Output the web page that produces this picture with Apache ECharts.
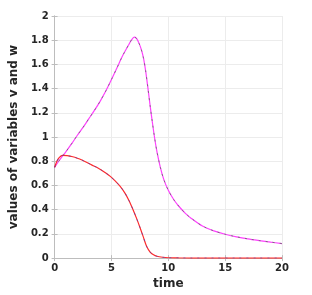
<!DOCTYPE html>
<html><head><meta charset="utf-8">
<script src="https://cdn.jsdelivr.net/npm/echarts@6/dist/echarts.min.js"></script>
<style>html,body{margin:0;padding:0;background:#fff}#c{width:312px;height:295px}</style>
</head><body><div id="c"></div>
<script>
const xTicks = [0, 5, 10, 15, 20];
const yTicks = [0, 0.2, 0.4, 0.6, 0.8, 1, 1.2, 1.4, 1.6, 1.8, 2];
const tW = [0,0.36,1,1.5,2,2.5,3,3.5,4,4.5,5,5.5,6,6.5,6.75,7,7.2,7.4,7.6,7.8,8,8.2,8.4,8.6,8.8,9,9.3,9.6,10,10.5,11,11.5,12,13,14,15,16,17,18,19,20];
const wVals = [0.75,0.80,0.88,0.945,1.015,1.08,1.15,1.22,1.295,1.38,1.475,1.575,1.675,1.76,1.80,1.825,1.815,1.78,1.73,1.66,1.55,1.41,1.26,1.12,0.99,0.88,0.75,0.65,0.56,0.48,0.42,0.37,0.33,0.265,0.225,0.197,0.176,0.159,0.145,0.132,0.12];
const tV = [0,0.2,0.4,0.7,1.1,1.6,2,2.4,2.8,3.25,3.7,4.1,4.5,4.9,5.3,5.75,6.2,6.57,6.9,7.2,7.5,7.8,8.1,8.4,8.7,9,9.5,10,11,12,14,16,18,20];
const vVals = [0.75,0.80,0.83,0.848,0.846,0.837,0.825,0.81,0.792,0.77,0.75,0.728,0.703,0.675,0.64,0.594,0.535,0.47,0.40,0.33,0.255,0.175,0.095,0.05,0.027,0.015,0.007,0.003,0.001,0,0,0,0,0];

const pair = (t, v) => t.map((x, i) => [x, v[i]]);
const lab = {color:'#262626', fontFamily:'DejaVu Sans', fontWeight:'bold', fontSize:10};
const axLine = {show:true, lineStyle:{color:'#bdbdbd', width:1}};
const tick = {show:true, inside:true, length:3, lineStyle:{color:'#bdbdbd'}};
const chart = echarts.init(document.getElementById('c'), null, {renderer:'canvas'});
chart.setOption({
  animation:false,
  grid:{left:41, right:30, top:16, bottom:33},
  xAxis:[{type:'value', min:0, max:20, interval:5, position:'bottom',
    name:'time', nameLocation:'middle', nameGap:14,
    nameTextStyle:{color:'#262626', fontFamily:'DejaVu Sans', fontWeight:'bold', fontSize:12},
    axisLine:axLine, axisTick:tick,
    axisLabel:Object.assign({margin:5, formatter: v => xTicks.includes(v) ? String(v) : ''}, lab),
    splitLine:{show:true, lineStyle:{color:'#ececec', width:1}}},
   {type:'value', min:0, max:20, interval:5, position:'top', axisLine:axLine,
    axisTick:tick, axisLabel:{show:false}, splitLine:{show:false}}],
  yAxis:[{type:'value', min:0, max:2, interval:0.2, position:'left',
    name:'values of variables v and w', nameLocation:'middle', nameGap:24,
    nameTextStyle:{color:'#262626', fontFamily:'DejaVu Sans', fontWeight:'bold', fontSize:12},
    axisLine:axLine, axisTick:tick,
    axisLabel:Object.assign({margin:6, formatter: v => { const r = Math.round(v*10)/10; return yTicks.includes(r) ? String(r) : ''; }}, lab),
    splitLine:{show:true, lineStyle:{color:'#ececec', width:1}}},
   {type:'value', min:0, max:2, interval:0.2, position:'right', axisLine:axLine,
    axisTick:tick, axisLabel:{show:false}, splitLine:{show:false}}],
  series:[
    {type:'line', data:pair(tW, wVals), smooth:0.3, showSymbol:false, lineStyle:{color:'#ff40ff', width:1.2}},
    {type:'line', data:pair(tW, wVals), smooth:0.3, showSymbol:false, lineStyle:{color:'#3d7a3d', width:0.8, opacity:0.8, type:[2,5]}},
    {type:'line', data:pair(tV, vVals), smooth:0.3, showSymbol:false, lineStyle:{color:'#ff2a2a', width:1.2}},
    {type:'line', data:pair(tV, vVals), smooth:0.3, showSymbol:false, lineStyle:{color:'#4040c0', width:0.8, opacity:0.8, type:[2,5]}}
  ]
});
</script></body></html>
